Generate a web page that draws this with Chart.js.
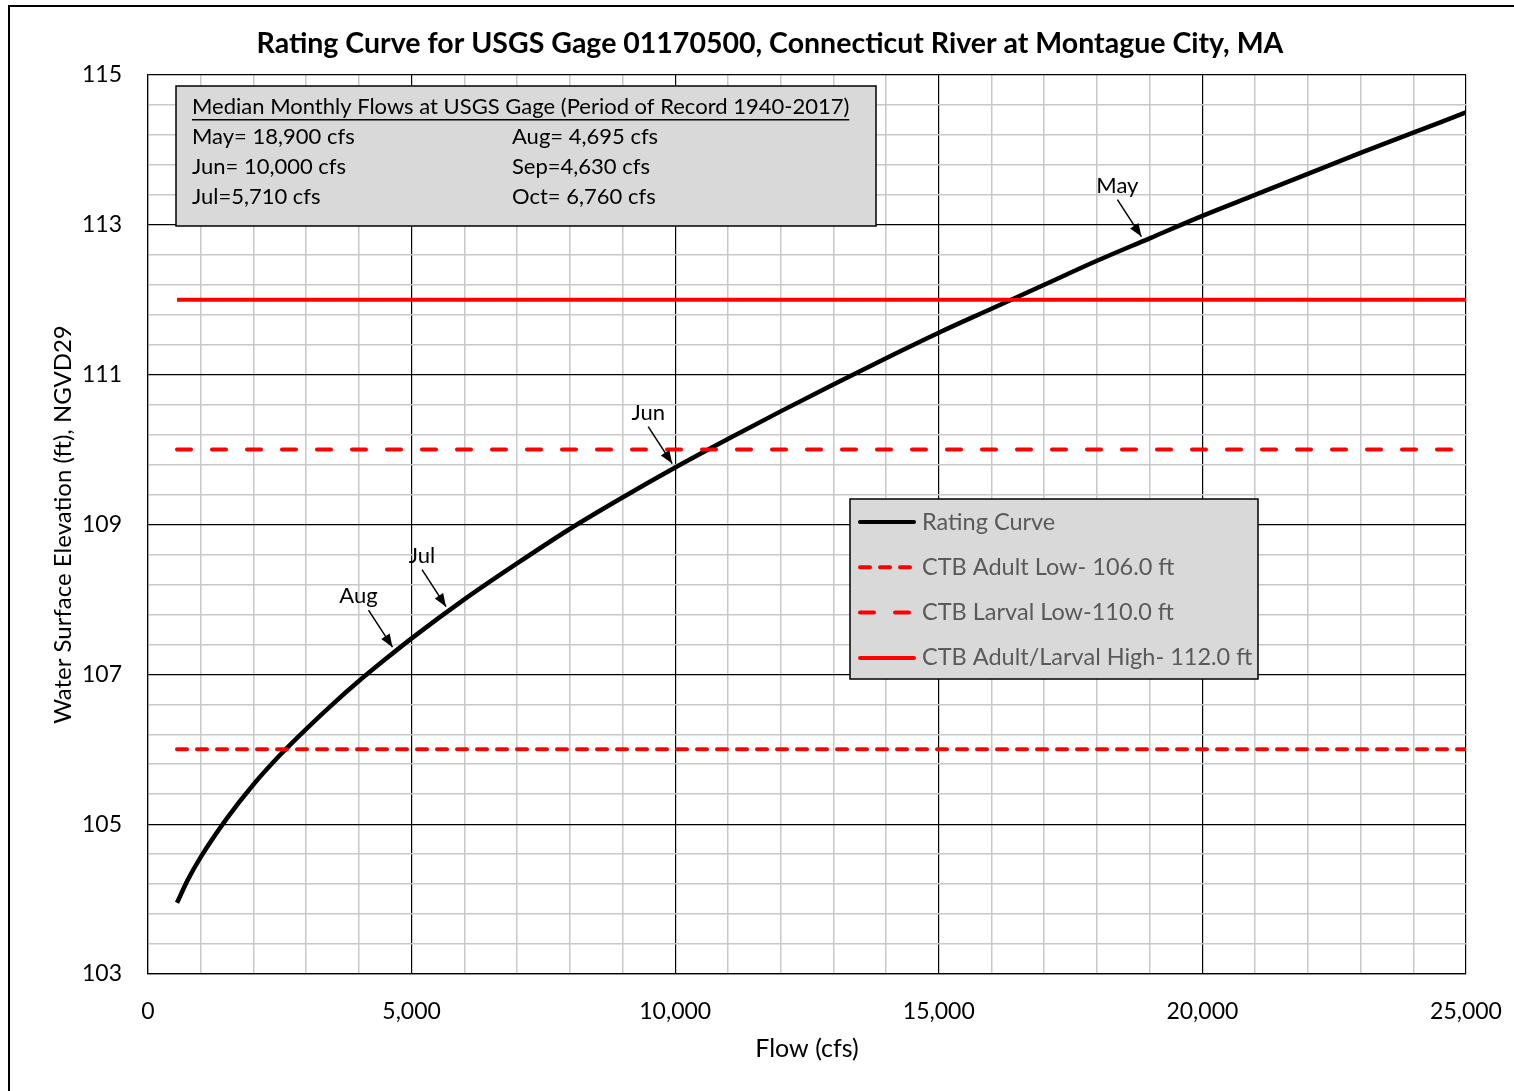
<!DOCTYPE html>
<html>
<head>
<meta charset="utf-8">
<script src="https://cdn.jsdelivr.net/npm/chart.js@4.4.1/dist/chart.umd.min.js"></script>
<style>
  html, body { margin: 0; padding: 0; background: #fff; }
  canvas { display: block; }
</style>
</head>
<body>
<canvas id="chart" width="1514" height="1091"></canvas>
<script>
/* rating curve */
const flows = [550, 750, 1000, 1500, 2000, 2500, 3000, 3500, 4000, 4500, 5000, 6000, 7000, 8000, 9000, 10000,
  11000, 12000, 13000, 14000, 15000, 16000, 17000, 18000, 19000, 20000, 21000, 22000, 23000, 24000, 25000];
const elevations = [103.95, 104.25, 104.56, 105.08, 105.53, 105.92, 106.27, 106.6, 106.91, 107.2, 107.48, 108.0, 108.48, 108.94, 109.36, 109.76,
  110.14, 110.51, 110.87, 111.22, 111.56, 111.88, 112.2, 112.52, 112.82, 113.12, 113.4, 113.68, 113.96, 114.23, 114.5];

/* CTB thresholds (ft) */
const thresholdLabels = ['CTB Adult Low- 106.0 ft', 'CTB Larval Low-110.0 ft', 'CTB Adult/Larval High- 112.0 ft'];
const thresholdLevels = [106.0, 110.0, 112.0];
const thresholdRange = [550, 25000];

/* median monthly flows */
const months = ['May', 'Jun', 'Jul', 'Aug', 'Sep', 'Oct'];
const monthFlows = [18900, 10000, 5710, 4695, 4630, 6760];
const monthText = ['May= 18,900 cfs', 'Jun= 10,000 cfs', 'Jul=5,710 cfs', 'Aug= 4,695 cfs', 'Sep=4,630 cfs', 'Oct= 6,760 cfs'];
const arrowMonths = ['May', 'Jun', 'Jul', 'Aug'];

const FONT = 'Lato, "Open Sans", sans-serif';
const RED = '#ff0000';

// linear lookup on the curve, used to put arrow tips on the line
function elevAt(q) {
  for (let i = 1; i < flows.length; i++) {
    if (q <= flows[i]) {
      const t = (q - flows[i - 1]) / (flows[i] - flows[i - 1]);
      return elevations[i - 1] + t * (elevations[i] - elevations[i - 1]);
    }
  }
  return elevations[elevations.length - 1];
}

const hline = (lvl) => thresholdRange.map(x => ({ x, y: lvl }));

const legendItems = [
  { text: 'Rating Curve', color: '#000', dash: [] },
  { text: thresholdLabels[0], color: RED, dash: [10, 10] },
  { text: thresholdLabels[1], color: RED, dash: [14, 21] },
  { text: thresholdLabels[2], color: RED, dash: [] }
];

const overlay = {
  id: 'overlay',
  beforeDraw(chart) {
    const ctx = chart.ctx;
    ctx.save();
    // outer frame
    ctx.strokeStyle = '#000';
    ctx.lineWidth = 2;
    ctx.strokeRect(9, 6, 1520, 1100);
    // title
    ctx.fillStyle = '#000';
    ctx.font = `bold 28.5px ${FONT}`;
    ctx.textAlign = 'center';
    ctx.textBaseline = 'middle';
    ctx.fillText('Rating Curve for USGS Gage 01170500, Connecticut River at Montague City, MA', 770, 44);
    ctx.restore();
  },
  afterDatasetsDraw(chart) {
    const ctx = chart.ctx;
    const xs = chart.scales.x, ys = chart.scales.y;
    ctx.save();

    /* --- median flows box --- */
    ctx.fillStyle = '#d9d9d9';
    ctx.fillRect(176, 86, 700, 140);
    ctx.strokeStyle = '#000';
    ctx.lineWidth = 1.5;
    ctx.strokeRect(176, 86, 700, 140);

    ctx.fillStyle = '#000';
    ctx.font = `22px ${FONT}`;
    ctx.textAlign = 'left';
    ctx.textBaseline = 'middle';
    const head = 'Median Monthly Flows at USGS Gage (Period of Record 1940-2017)';
    ctx.fillText(head, 192, 107);
    const hw = ctx.measureText(head).width;
    ctx.fillRect(192, 119, hw, 1.5);
    monthText.forEach((t, i) => {
      const col = Math.floor(i / 3), row = i % 3;
      ctx.fillText(t, col ? 512 : 192, 137 + row * 30);
    });

    /* --- legend --- */
    ctx.fillStyle = '#d9d9d9';
    ctx.fillRect(850, 499, 408, 180);
    ctx.strokeStyle = '#000';
    ctx.lineWidth = 1.5;
    ctx.strokeRect(850, 499, 408, 180);
    ctx.font = `23.5px ${FONT}`;
    legendItems.forEach((it, i) => {
      const y = 522 + i * 45.3;
      ctx.beginPath();
      ctx.strokeStyle = it.color;
      ctx.lineWidth = 4;
      ctx.lineCap = 'round';
      ctx.setLineDash(it.dash);
      ctx.moveTo(860, y);
      ctx.lineTo(914, y);
      ctx.stroke();
      ctx.setLineDash([]);
      ctx.fillStyle = '#595959';
      ctx.fillText(it.text, 922, y);
    });

    /* --- month arrows --- */
    ctx.lineCap = 'butt';
    ctx.font = `22px ${FONT}`;
    ctx.textAlign = 'center';
    arrowMonths.forEach(m => {
      const q = monthFlows[months.indexOf(m)];
      const tx = xs.getPixelForValue(q) - 3;
      const ty = ys.getPixelForValue(elevAt(q)) - 4;
      const sx = tx - 24, sy = ty - 37;
      ctx.strokeStyle = '#000';
      ctx.lineWidth = 1.5;
      ctx.beginPath();
      ctx.moveTo(sx, sy);
      ctx.lineTo(tx, ty);
      ctx.stroke();
      const ang = Math.atan2(ty - sy, tx - sx);
      const L = 13, W = 5;
      ctx.fillStyle = '#000';
      ctx.beginPath();
      ctx.moveTo(tx, ty);
      ctx.lineTo(tx - L * Math.cos(ang) + W * Math.sin(ang), ty - L * Math.sin(ang) - W * Math.cos(ang));
      ctx.lineTo(tx - L * Math.cos(ang) - W * Math.sin(ang), ty - L * Math.sin(ang) + W * Math.cos(ang));
      ctx.closePath();
      ctx.fill();
      const lx = m === 'Aug' ? tx - 34 : tx - 24;
      ctx.fillText(m, lx, ty - 51);
    });
    ctx.restore();
  }
};

const isMajorY = v => Math.abs(((Math.round(v * 10) - 1030) % 20)) === 0;

new Chart(document.getElementById('chart'), {
  type: 'scatter',
  data: {
    datasets: [
      { label: thresholdLabels[0], data: hline(thresholdLevels[0]), showLine: true, borderColor: RED,
        borderWidth: 4, borderDash: [10, 10], borderCapStyle: 'round', pointRadius: 0 },
      { label: thresholdLabels[1], data: hline(thresholdLevels[1]), showLine: true, borderColor: RED,
        borderWidth: 4, borderDash: [14, 21], borderCapStyle: 'round', pointRadius: 0 },
      { label: thresholdLabels[2], data: hline(thresholdLevels[2]), showLine: true, borderColor: RED,
        borderWidth: 4, pointRadius: 0 },
      { label: 'Rating Curve', data: flows.map((x, i) => ({ x, y: elevations[i] })), showLine: true,
        borderColor: '#000', borderWidth: 4.5, cubicInterpolationMode: 'monotone', pointRadius: 0 }
    ]
  },
  options: {
    responsive: false,
    animation: false,
    layout: { padding: { top: 75, right: 48, bottom: 0, left: 0 } },
    plugins: { legend: { display: false }, tooltip: { enabled: false }, title: { display: false } },
    scales: {
      x: {
        type: 'linear', min: 0, max: 25000,
        // fixed height; drop the label overhang so the plot runs to x=1466
        afterFit: s => { s.height = 117; s.paddingLeft = 0; s.paddingRight = 0; },
        ticks: {
          stepSize: 1000, autoSkip: false, maxRotation: 0, padding: 24,
          color: '#000', font: { family: FONT, size: 23 },
          callback: v => (v % 5000 === 0 ? v.toLocaleString('en-US') : '')
        },
        grid: {
          drawTicks: false,
          color: c => (c.tick.value % 5000 === 0 ? '#000' : '#c8c8c8'),
          lineWidth: c => (c.tick.value % 5000 === 0 ? 1.2 : 1.5)
        },
        border: { color: '#000', width: 1.2 },
        title: { display: true, text: 'Flow (cfs)', color: '#000', font: { family: FONT, size: 25 }, padding: { bottom: 27 } }
      },
      y: {
        type: 'linear', min: 103, max: 115,
        afterFit: s => { s.width = 148; },
        ticks: {
          stepSize: 0.4, autoSkip: false, padding: 26,
          color: '#000', font: { family: FONT, size: 23 },
          callback: v => (isMajorY(v) ? String(Math.round(v)) : '')
        },
        grid: {
          drawTicks: false,
          color: c => (isMajorY(c.tick.value) ? '#000' : '#c8c8c8'),
          lineWidth: c => (isMajorY(c.tick.value) ? 1.2 : 1.5)
        },
        border: { color: '#000', width: 1.2 },
        title: { display: true, text: 'Water Surface Elevation (ft), NGVD29', color: '#000',
          font: { family: FONT, size: 24 }, padding: { top: 49 } }
      }
    }
  },
  plugins: [overlay]
});
</script>
</body>
</html>
